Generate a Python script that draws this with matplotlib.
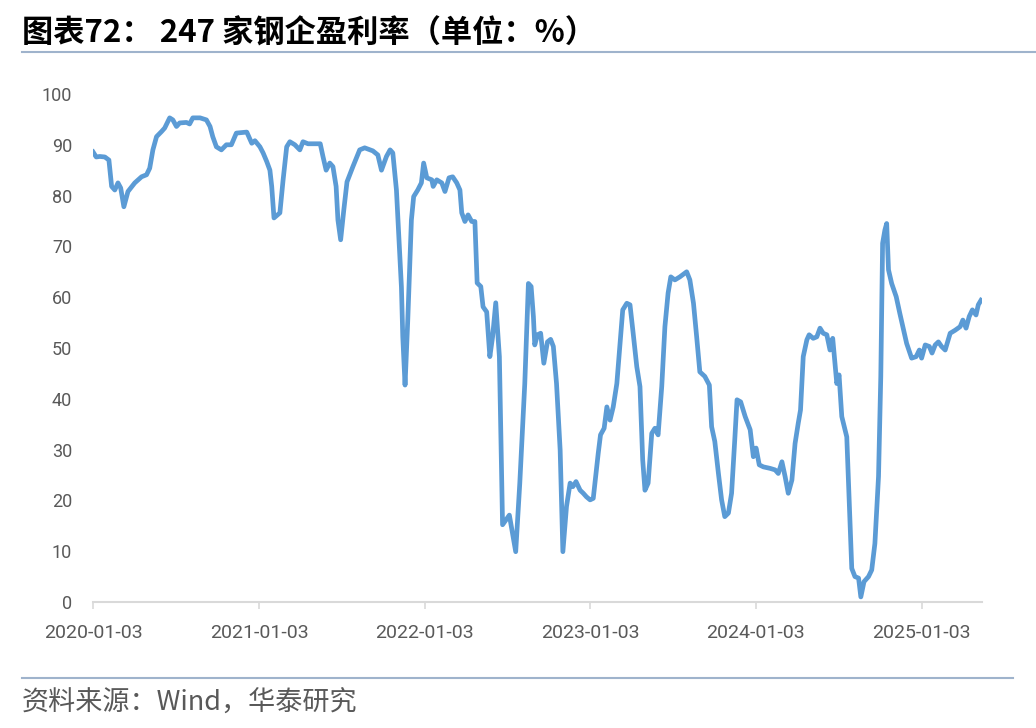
import numpy as np
import matplotlib
matplotlib.use("Agg")
import matplotlib.pyplot as plt
import pandas as pd

# 247家钢企盈利率 (%), weekly
dates = [
    "2020-01-03", "2020-01-10", "2020-01-18", "2020-01-29", "2020-02-07", "2020-02-13",
    "2020-02-20", "2020-02-27", "2020-03-04", "2020-03-11", "2020-03-20", "2020-04-04",
    "2020-04-19", "2020-04-30", "2020-05-07", "2020-05-14", "2020-05-22", "2020-06-02",
    "2020-06-09", "2020-06-20", "2020-06-27", "2020-07-05", "2020-07-12", "2020-07-27",
    "2020-08-03", "2020-08-10", "2020-08-26", "2020-09-09", "2020-09-17", "2020-09-23",
    "2020-10-01", "2020-10-12", "2020-10-23", "2020-11-03", "2020-11-14", "2020-12-07",
    "2020-12-18", "2020-12-25", "2021-01-05", "2021-01-12", "2021-01-20", "2021-01-27",
    "2021-01-31", "2021-02-05", "2021-02-18", "2021-02-25", "2021-03-05", "2021-03-12",
    "2021-03-23", "2021-04-03", "2021-04-10", "2021-04-21", "2021-05-18", "2021-05-24",
    "2021-05-31", "2021-06-08", "2021-06-15", "2021-06-22", "2021-06-26", "2021-07-02",
    "2021-07-09", "2021-07-16", "2021-07-29", "2021-08-13", "2021-08-24", "2021-09-11",
    "2021-09-22", "2021-09-30", "2021-10-11", "2021-10-19", "2021-10-25", "2021-11-02",
    "2021-11-07", "2021-11-13", "2021-11-16", "2021-11-21", "2021-11-27", "2021-12-05",
    "2021-12-10", "2021-12-19", "2021-12-27", "2022-01-01", "2022-01-08", "2022-01-19",
    "2022-01-22", "2022-01-30", "2022-02-10", "2022-02-17", "2022-02-26", "2022-03-06",
    "2022-03-15", "2022-03-22", "2022-03-26", "2022-04-02", "2022-04-09", "2022-04-17",
    "2022-04-24", "2022-04-29", "2022-05-07", "2022-05-12", "2022-05-20", "2022-05-27",
    "2022-06-02", "2022-06-09", "2022-06-17", "2022-06-24", "2022-07-01", "2022-07-09",
    "2022-07-16", "2022-07-23", "2022-08-01", "2022-08-12", "2022-08-20", "2022-08-26",
    "2022-08-31", "2022-09-03", "2022-09-09", "2022-09-16", "2022-09-23", "2022-10-01",
    "2022-10-08", "2022-10-14", "2022-10-21", "2022-10-29", "2022-11-04", "2022-11-12",
    "2022-11-20", "2022-11-26", "2022-12-03", "2022-12-12", "2022-12-19", "2022-12-26",
    "2023-01-03", "2023-01-10", "2023-01-21", "2023-01-26", "2023-02-03", "2023-02-09",
    "2023-02-16", "2023-02-23", "2023-03-03", "2023-03-10", "2023-03-16", "2023-03-25",
    "2023-04-01", "2023-04-08", "2023-04-16", "2023-04-23", "2023-04-29", "2023-05-04",
    "2023-05-11", "2023-05-19", "2023-05-26", "2023-06-02", "2023-06-10", "2023-06-17",
    "2023-06-24", "2023-06-30", "2023-07-09", "2023-07-20", "2023-08-04", "2023-08-11",
    "2023-08-19", "2023-08-26", "2023-09-02", "2023-09-13", "2023-09-23", "2023-09-28",
    "2023-10-05", "2023-10-13", "2023-10-20", "2023-10-27", "2023-11-04", "2023-11-11",
    "2023-11-18", "2023-11-23", "2023-12-01", "2023-12-11", "2023-12-22", "2023-12-29",
    "2024-01-04", "2024-01-11", "2024-01-20", "2024-02-04", "2024-02-15", "2024-02-22",
    "2024-03-01", "2024-03-08", "2024-03-15", "2024-03-23", "2024-03-30", "2024-04-06",
    "2024-04-11", "2024-04-17", "2024-04-25", "2024-04-30", "2024-05-09", "2024-05-17",
    "2024-05-24", "2024-05-31", "2024-06-08", "2024-06-15", "2024-06-21", "2024-06-26",
    "2024-06-30", "2024-07-05", "2024-07-11", "2024-07-22", "2024-07-28", "2024-08-02",
    "2024-08-09", "2024-08-17", "2024-08-22", "2024-08-29", "2024-09-08", "2024-09-15",
    "2024-09-22", "2024-09-30", "2024-10-05", "2024-10-09", "2024-10-14", "2024-10-18",
    "2024-10-22", "2024-10-29", "2024-11-08", "2024-11-16", "2024-12-01", "2024-12-12",
    "2024-12-22", "2024-12-29", "2025-01-03", "2025-01-11", "2025-01-20", "2025-01-26",
    "2025-02-02", "2025-02-09", "2025-02-16", "2025-02-24", "2025-03-07", "2025-03-18",
    "2025-03-29", "2025-04-04", "2025-04-11", "2025-04-18", "2025-04-25", "2025-05-03",
    "2025-05-08", "2025-05-14",
]
profit_rate = [
    88.6, 87.6, 87.7, 87.6, 87.0, 81.8,
    81.1, 82.5, 81.5, 77.8, 80.8, 82.5,
    83.7, 84.1, 85.4, 89.0, 91.6, 92.6,
    93.3, 95.3, 94.9, 93.6, 94.3, 94.4,
    94.1, 95.3, 95.3, 94.9, 93.6, 91.6,
    89.6, 89.0, 90.0, 90.0, 92.3, 92.5,
    90.3, 90.8, 89.6, 88.4, 86.7, 85.0,
    81.8, 75.6, 76.6, 83.0, 89.6, 90.6,
    90.0, 89.0, 90.6, 90.2, 90.2, 87.7,
    85.0, 86.4, 85.7, 81.8, 75.2, 71.3,
    77.2, 82.7, 85.7, 89.0, 89.4, 88.8,
    88.0, 85.0, 87.7, 89.0, 88.4, 81.1,
    72.6, 62.0, 52.2, 42.7, 55.5, 75.2,
    79.8, 81.1, 82.5, 86.4, 83.5, 83.1,
    81.8, 83.1, 82.5, 80.8, 83.5, 83.7,
    82.5, 81.1, 76.6, 74.9, 76.2, 74.9,
    74.9, 62.8, 62.1, 58.1, 57.1, 48.3,
    52.2, 58.9, 48.3, 15.2, 16.1, 17.1,
    13.5, 9.9, 23.4, 43.0, 62.7, 62.1,
    56.2, 50.6, 52.6, 52.9, 47.0, 51.2,
    51.7, 50.3, 43.0, 29.9, 9.9, 18.8,
    23.4, 22.7, 23.7, 22.0, 21.4, 20.7,
    20.1, 20.4, 29.3, 32.9, 34.2, 38.4,
    35.8, 38.4, 43.0, 50.9, 57.5, 58.8,
    58.5, 52.9, 46.3, 42.4, 28.0, 22.0,
    23.4, 33.2, 34.2, 32.9, 42.4, 54.2,
    60.8, 64.0, 63.4, 64.0, 65.0, 63.4,
    58.8, 52.2, 45.3, 44.4, 42.7, 34.5,
    31.6, 25.3, 20.1, 16.8, 17.5, 21.4,
    31.9, 39.8, 39.4, 36.5, 33.9, 28.6,
    30.3, 27.0, 26.6, 26.3, 26.0, 25.3,
    27.6, 24.7, 21.4, 24.0, 31.2, 35.2,
    37.8, 48.3, 51.6, 52.6, 51.9, 52.2,
    53.9, 52.9, 52.6, 49.6, 51.9, 47.0,
    43.0, 44.7, 36.5, 32.5, 18.1, 6.6,
    5.0, 4.7, 1.0, 4.0, 5.0, 6.3,
    11.5, 24.7, 44.4, 70.6, 73.2, 74.5,
    65.4, 62.7, 60.1, 56.8, 50.9, 48.0,
    48.3, 49.6, 48.0, 50.6, 50.3, 49.0,
    50.6, 51.2, 50.3, 49.6, 52.9, 53.5,
    54.2, 55.5, 53.9, 56.2, 57.5, 56.5,
    58.5, 59.4,
]
tick_dates = ["2020-01-03", "2021-01-03", "2022-01-03", "2023-01-03", "2024-01-03", "2025-01-03"]
y_ticks = [0, 10, 20, 30, 40, 50, 60, 70, 80, 90, 100]

title = "图表72： 247 家钢企盈利率（单位：%）"
source = "资料来源：Wind，华泰研究"

x = pd.to_datetime(dates)
xt = pd.to_datetime(tick_dates)

# narrow font for the tick labels, falls back if not installed
plt.rcParams["font.family"] = ["DejaVu Sans Condensed", "Roboto", "DejaVu Sans"]
plt.rcParams["font.stretch"] = "condensed"
cjk = ["Noto Sans CJK SC", "DejaVu Sans"]

fig = plt.figure(figsize=(10.36, 7.28), dpi=100)
ax = fig.add_axes([0.0898, 0.1731, 0.858, 0.6978])

ax.plot(x, profit_rate, color="#5b9bd5", linewidth=3.4, solid_joinstyle="round")

ax.set_xlim(pd.Timestamp("2020-01-03"), pd.Timestamp("2025-05-16"))
ax.set_ylim(0, 100)
ax.set_yticks(y_ticks)
ax.set_xticks(xt)
ax.set_xticklabels(tick_dates)

for s in ["top", "right", "left"]:
    ax.spines[s].set_visible(False)
ax.spines["bottom"].set_color("#d9d9d9")
ax.spines["bottom"].set_linewidth(1.5)
ax.tick_params(axis="y", length=0, pad=15, labelsize=13, labelcolor="#595959")
ax.tick_params(axis="x", length=5, width=1.2, color="#d9d9d9", pad=11,
               labelsize=14, labelcolor="#595959")

# title and source with the blue-grey rules
fig.text(0.021, 0.954, title, fontsize=22.5, fontweight="bold", color="black",
         family=cjk, va="center", ha="left")
fig.add_artist(plt.Line2D([0.021, 1.0], [0.928, 0.928], color="#9fb3cc", linewidth=1.5))
fig.add_artist(plt.Line2D([0.021, 0.978], [0.068, 0.068], color="#9fb3cc", linewidth=1.5))
fig.text(0.021, 0.034, source, fontsize=19.5, color="#595959", fontweight="light",
         family=cjk, va="center", ha="left")

fig.savefig("out.png", dpi=100)
